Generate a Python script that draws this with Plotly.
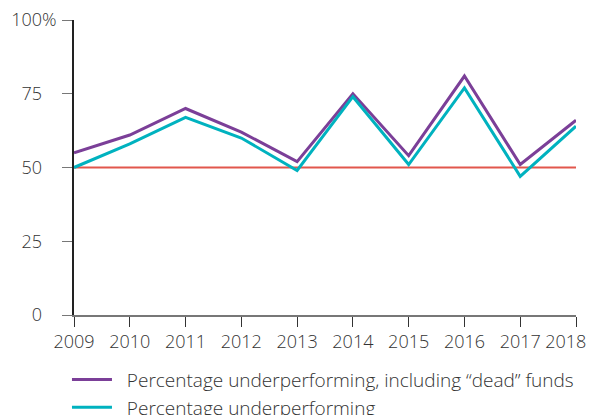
import plotly.graph_objects as go

years = [2009, 2010, 2011, 2012, 2013, 2014, 2015, 2016, 2017, 2018]
incl_dead = [55, 61, 70, 62, 52, 75, 54, 81, 51, 66]
underperf = [50, 58, 67, 60, 49, 74, 51, 77, 47, 64]
benchmark = [50] * len(years)
ytick_vals = [0, 25, 50, 75, 100]
ytick_labels = ["0", "25", "50", "75", "100"]
name_dead = "Percentage underperforming, including \u201cdead\u201d funds"
name_under = "Percentage underperforming"


def hidden(s):
    return "<span style='color:rgba(0,0,0,0)'>" + s + "</span>"


ytick_text = [t + ("%" if t == "100" else hidden("%")) for t in ytick_labels]
# keep the last year's label inside the page edge
xtick_text = [str(y) for y in years[:-1]] + [str(years[-1]) + hidden("00")]

fig = go.Figure()
fig.add_trace(go.Scatter(x=years, y=benchmark, mode="lines",
                         line=dict(color="#e2574c", width=1.8),
                         showlegend=False, hoverinfo="skip"))
fig.add_trace(go.Scatter(x=years, y=incl_dead, mode="lines",
                         name="\u00a0\u00a0" + name_dead, legendgroup="a",
                         line=dict(color="#7b3f98", width=3)))
fig.add_trace(go.Scatter(x=years, y=underperf, mode="lines",
                         name="\u00a0\u00a0" + name_under, legendgroup="b",
                         line=dict(color="#00b2bf", width=3)))

font_family = "Open Sans, Liberation Sans, sans-serif"
txt = "#333333"
fnt = dict(family=font_family, size=18, color=txt, weight=300)
lfnt = dict(family=font_family, size=19, color=txt, weight=300)
fig.update_layout(
    width=587, height=407,
    margin=dict(l=66, r=19, t=12, b=100, autoexpand=False),
    plot_bgcolor="white", paper_bgcolor="white",
    font=fnt,
    legend=dict(orientation="v", x=-0.014, y=-0.155, xanchor="left", yanchor="top",
                font=lfnt, tracegroupgap=0,
                itemwidth=40, bgcolor="rgba(0,0,0,0)"),
    xaxis=dict(range=[2009, 2018], tickvals=years, ticktext=xtick_text,
               ticks="outside", ticklen=10,
               tickcolor="#333333", showline=True, linecolor="#777777", linewidth=1.5,
               showgrid=False, zeroline=False, tickfont=fnt,
               ticklabeloverflow="allow"),
    yaxis=dict(range=[0, 100], tickvals=ytick_vals, ticktext=ytick_text,
               ticks="outside", ticklen=10, tickcolor="#777777",
               showline=True, linecolor="#222222", linewidth=1.5,
               showgrid=False, zeroline=False, tickfont=fnt, ticklabelstandoff=2,
               ticklabeloverflow="allow"),
)

fig.write_html("out.html")
